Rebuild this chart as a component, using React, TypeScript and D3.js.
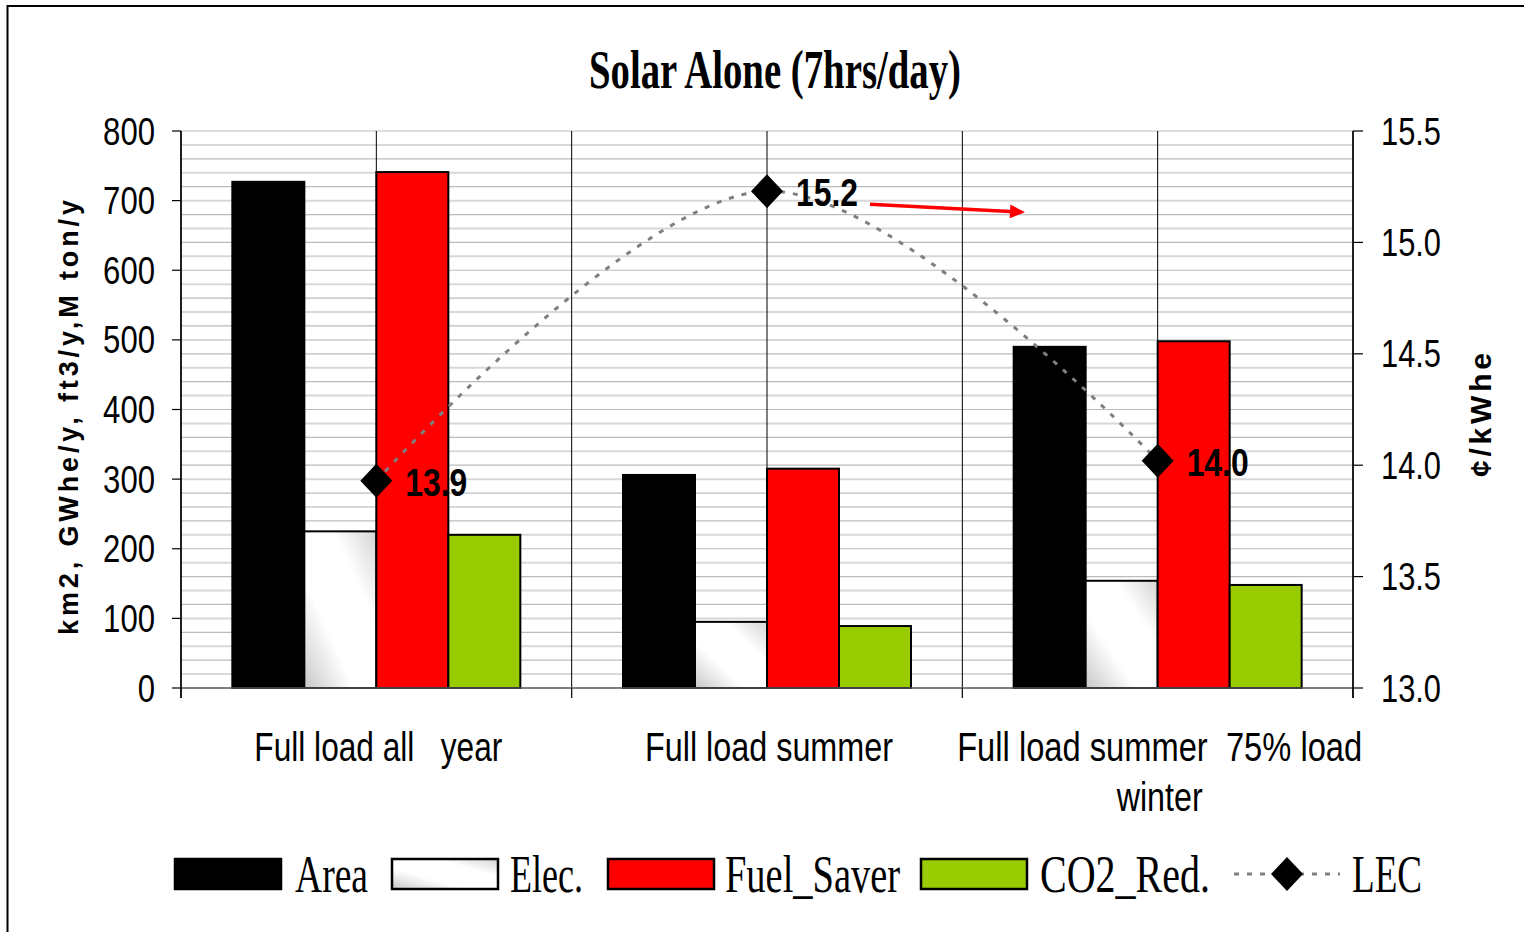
import { useEffect, useRef } from "react";
import * as d3 from "d3";

// chart values
const categoryLines = [
  ["Full load all   year"],
  ["Full load summer"],
  ["Full load summer  75% load", "winter"],
];
const seriesNames = ["Area", "Elec.", "Fuel_Saver", "CO2_Red."];
const areaValues = [727, 306, 490];
const elecValues = [225, 95, 154];
const fuelSaverValues = [741, 315, 498];
const co2RedValues = [220, 89, 148];
const lecValues = [13.93, 15.23, 14.02];
const lecLabels = ["13.9", "15.2", "14.0"];
const leftTicks = [0, 100, 200, 300, 400, 500, 600, 700, 800];
const rightTicks = [13.0, 13.5, 14.0, 14.5, 15.0, 15.5];
const chartTitle = "Solar Alone (7hrs/day)";
const leftTitle = "km2, GWhe/y, ft3/y,M ton/y";
const rightTitle = "¢/kWhe";

const SANS = "'Liberation Sans', Arial, sans-serif";
const SERIF = "'Liberation Serif', 'Times New Roman', serif";

const App = () => {
  const svgRef = useRef<SVGSVGElement>(null);
  const width = 1524;
  const height = 932;
  const plot = { left: 181, right: 1353, top: 131, bottom: 688 };

  useEffect(() => {
    const svg = d3.select(svgRef.current);
    svg.selectAll("*").remove();

    const seriesValues = [areaValues, elecValues, fuelSaverValues, co2RedValues];
    const seriesFills = ["#000000", "url(#elecGrad)", "#ff0000", "#99cc00"];

    // gradient for the Elec. bars
    const defs = svg.append("defs");
    const grad = defs
      .append("linearGradient")
      .attr("id", "elecGrad")
      .attr("x1", 0)
      .attr("y1", 1)
      .attr("x2", 1)
      .attr("y2", 0);
    grad.append("stop").attr("offset", "0%").attr("stop-color", "#c8c8c8");
    grad.append("stop").attr("offset", "35%").attr("stop-color", "#ffffff");
    grad.append("stop").attr("offset", "70%").attr("stop-color", "#ffffff");
    grad.append("stop").attr("offset", "100%").attr("stop-color", "#d4d4d4");

    // outer frame
    svg
      .append("path")
      .attr("d", `M7.5,${height + 10} V6 H${width + 10}`)
      .attr("fill", "none")
      .attr("stroke", "#000")
      .attr("stroke-width", 2);

    // scales
    const xScale = d3
      .scaleBand()
      .domain(categoryLines.map((_, i) => String(i)))
      .range([plot.left, plot.right])
      .paddingInner(0)
      .paddingOuter(0);

    const xInner = d3
      .scaleBand()
      .domain(seriesNames)
      .range([0, xScale.bandwidth()])
      .paddingInner(0)
      .paddingOuter(0.713);

    const yLeft = d3.scaleLinear().domain([0, 800]).range([plot.bottom, plot.top]);
    const yRight = d3.scaleLinear().domain([13, 15.5]).range([plot.bottom, plot.top]);

    // horizontal grid lines
    const gridVals = d3.range(20, 801, 20);
    svg
      .append("g")
      .selectAll("line")
      .data(gridVals)
      .join("line")
      .attr("x1", plot.left)
      .attr("x2", plot.right)
      .attr("y1", (d) => yLeft(d))
      .attr("y2", (d) => yLeft(d))
      .attr("stroke", (_, i) => (i % 2 === 0 ? "#d8d8d8" : "#bcbcbc"))
      .attr("stroke-width", (_, i) => (i % 2 === 0 ? 2 : 1.2));

    // vertical lines at category centers and boundaries
    const vLines: number[] = [];
    categoryLines.forEach((_, i) => {
      const x0 = xScale(String(i)) as number;
      vLines.push(x0, x0 + xScale.bandwidth() / 2);
    });
    vLines.push(plot.right);
    svg
      .append("g")
      .selectAll("line")
      .data(vLines)
      .join("line")
      .attr("x1", (d) => d)
      .attr("x2", (d) => d)
      .attr("y1", plot.top)
      .attr("y2", plot.bottom)
      .attr("stroke", "#000")
      .attr("stroke-width", 1);

    // bars
    const barG = svg.append("g");
    categoryLines.forEach((_, ci) => {
      const x0 = xScale(String(ci)) as number;
      seriesNames.forEach((name, si) => {
        const v = seriesValues[si][ci];
        barG
          .append("rect")
          .attr("x", x0 + (xInner(name) as number))
          .attr("y", yLeft(v))
          .attr("width", xInner.bandwidth())
          .attr("height", yLeft(0) - yLeft(v))
          .attr("fill", seriesFills[si])
          .attr("stroke", "#000")
          .attr("stroke-width", 2);
      });
    });

    // axes lines
    svg
      .append("line")
      .attr("x1", plot.left)
      .attr("x2", plot.right)
      .attr("y1", plot.bottom)
      .attr("y2", plot.bottom)
      .attr("stroke", "#555")
      .attr("stroke-width", 1.5);
    svg
      .append("line")
      .attr("x1", plot.left)
      .attr("x2", plot.left)
      .attr("y1", plot.top)
      .attr("y2", plot.bottom + 10)
      .attr("stroke", "#000")
      .attr("stroke-width", 1.5);
    svg
      .append("line")
      .attr("x1", plot.right)
      .attr("x2", plot.right)
      .attr("y1", plot.top)
      .attr("y2", plot.bottom + 10)
      .attr("stroke", "#000")
      .attr("stroke-width", 1.5);

    // x ticks at boundaries
    svg
      .append("g")
      .selectAll("line")
      .data(vLines.filter((_, i) => i % 2 === 0 || i === vLines.length - 1))
      .join("line")
      .attr("x1", (d) => d)
      .attr("x2", (d) => d)
      .attr("y1", plot.bottom)
      .attr("y2", plot.bottom + 10)
      .attr("stroke", "#000")
      .attr("stroke-width", 1.2);

    // left ticks + labels
    const lg = svg.append("g");
    leftTicks.forEach((t) => {
      lg.append("line")
        .attr("x1", plot.left - 9)
        .attr("x2", plot.left)
        .attr("y1", yLeft(t))
        .attr("y2", yLeft(t))
        .attr("stroke", "#000")
        .attr("stroke-width", 1.2);
      const label = String(t);
      lg.append("text")
        .attr("x", 155)
        .attr("y", yLeft(t) + 13.5)
        .attr("text-anchor", "end")
        .attr("font-family", SANS)
        .attr("font-size", 38)
        .attr("textLength", label.length * 17.3)
        .attr("lengthAdjust", "spacingAndGlyphs")
        .text(label);
    });

    // right ticks + labels
    const rg = svg.append("g");
    rightTicks.forEach((t) => {
      rg.append("line")
        .attr("x1", plot.right)
        .attr("x2", plot.right + 10)
        .attr("y1", yRight(t))
        .attr("y2", yRight(t))
        .attr("stroke", "#000")
        .attr("stroke-width", 1.2);
      rg.append("text")
        .attr("x", 1381)
        .attr("y", yRight(t) + 13.5)
        .attr("font-family", SANS)
        .attr("font-size", 38)
        .attr("textLength", 60)
        .attr("lengthAdjust", "spacingAndGlyphs")
        .text(t.toFixed(1));
    });

    // category labels
    categoryLines.forEach((lines, ci) => {
      const cx = (xScale(String(ci)) as number) + xScale.bandwidth() / 2 + 2;
      lines.forEach((ln, li) => {
        svg
          .append("text")
          .attr("x", cx)
          .attr("y", 761 + li * 50)
          .attr("text-anchor", "middle")
          .attr("font-family", SANS)
          .attr("font-size", 40)
          .attr("xml:space", "preserve")
          .style("white-space", "pre")
          .attr("textLength", ln.length > 20 ? 405 : ln.length > 10 ? 248 : 86)
          .attr("lengthAdjust", "spacingAndGlyphs")
          .text(ln);
      });
    });

    // LEC line
    const lecPoints = lecValues.map((v, i) => [
      (xScale(String(i)) as number) + xScale.bandwidth() / 2,
      yRight(v),
    ]) as [number, number][];
    const lineGen = d3.line().curve(d3.curveCardinal.tension(0));
    svg
      .append("path")
      .attr("d", lineGen(lecPoints))
      .attr("fill", "none")
      .attr("stroke", "#7f7f7f")
      .attr("stroke-width", 3)
      .attr("stroke-dasharray", "5,8");

    const diamond = (x: number, y: number) =>
      `M${x},${y - 17} L${x + 16},${y} L${x},${y + 17} L${x - 16},${y} Z`;

    lecPoints.forEach(([x, y], i) => {
      svg.append("path").attr("d", diamond(x, y)).attr("fill", "#000");
      svg
        .append("text")
        .attr("x", x + 29)
        .attr("y", y + 15)
        .attr("font-family", SANS)
        .attr("font-weight", "bold")
        .attr("font-size", 38)
        .attr("textLength", 62)
        .attr("lengthAdjust", "spacingAndGlyphs")
        .text(lecLabels[i]);
    });

    // red annotation arrow after the peak label
    const [px, py] = lecPoints[1];
    const ax1 = px + 103;
    const ay1 = py + 13;
    const ax2 = px + 258;
    const ay2 = py + 21;
    const ang = Math.atan2(ay2 - ay1, ax2 - ax1);
    const headLen = 15;
    const headW = 7;
    const bx = ax2 - headLen * Math.cos(ang);
    const by = ay2 - headLen * Math.sin(ang);
    svg
      .append("line")
      .attr("x1", ax1)
      .attr("y1", ay1)
      .attr("x2", bx)
      .attr("y2", by)
      .attr("stroke", "#ff0000")
      .attr("stroke-width", 3.5);
    svg
      .append("path")
      .attr(
        "d",
        `M${ax2},${ay2} L${bx - headW * Math.sin(ang)},${by + headW * Math.cos(ang)} L${
          bx + headW * Math.sin(ang)
        },${by - headW * Math.cos(ang)} Z`
      )
      .attr("fill", "#ff0000");

    // title
    svg
      .append("text")
      .attr("x", 775)
      .attr("y", 88)
      .attr("text-anchor", "middle")
      .attr("font-family", SERIF)
      .attr("font-weight", "bold")
      .attr("font-size", 54)
      .attr("textLength", 372)
      .attr("lengthAdjust", "spacingAndGlyphs")
      .text(chartTitle);

    // axis titles
    svg
      .append("text")
      .attr("transform", `translate(78,${(200 + 635) / 2}) rotate(-90)`)
      .attr("text-anchor", "middle")
      .attr("font-family", SANS)
      .attr("font-weight", "bold")
      .attr("font-size", 27)
      .attr("textLength", 435)
      .attr("lengthAdjust", "spacing")
      .text(leftTitle);

    svg
      .append("text")
      .attr("transform", `translate(1491,415) rotate(-90)`)
      .attr("text-anchor", "middle")
      .attr("font-family", SANS)
      .attr("font-weight", "bold")
      .attr("font-size", 30)
      .attr("textLength", 124)
      .attr("lengthAdjust", "spacing")
      .text(rightTitle);

    // legend
    const legendSwatchX = [175, 392, 608, 921];
    const legendTextX = [295, 510, 725, 1040];
    const legendTextW = [73, 73, 175, 170];
    const leg = svg.append("g");
    seriesNames.forEach((name, i) => {
      leg
        .append("rect")
        .attr("x", legendSwatchX[i])
        .attr("y", 859)
        .attr("width", 106)
        .attr("height", 30)
        .attr("fill", seriesFills[i])
        .attr("stroke", "#000")
        .attr("stroke-width", 2.5);
      leg
        .append("text")
        .attr("x", legendTextX[i])
        .attr("y", 892)
        .attr("font-family", SERIF)
        .attr("font-size", 52)
        .attr("textLength", legendTextW[i])
        .attr("lengthAdjust", "spacingAndGlyphs")
        .text(name);
    });
    leg
      .append("line")
      .attr("x1", 1234)
      .attr("x2", 1340)
      .attr("y1", 874)
      .attr("y2", 874)
      .attr("stroke", "#808080")
      .attr("stroke-width", 3)
      .attr("stroke-dasharray", "5,8");
    leg.append("path").attr("d", diamond(1287, 874)).attr("fill", "#000");
    leg
      .append("text")
      .attr("x", 1352)
      .attr("y", 892)
      .attr("font-family", SERIF)
      .attr("font-size", 52)
      .attr("textLength", 70)
      .attr("lengthAdjust", "spacingAndGlyphs")
      .text("LEC");
  }, []);

  return (
    <svg
      ref={svgRef}
      width={width}
      height={height}
      style={{ position: "absolute", left: 0, top: 0, background: "#fff" }}
    ></svg>
  );
};

export default App;
